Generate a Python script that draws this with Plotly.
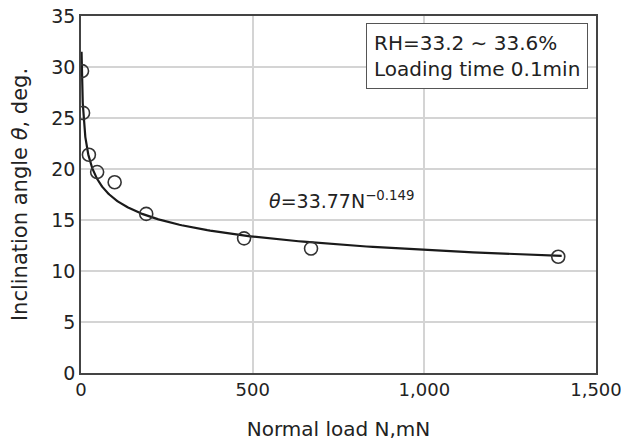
import numpy as np
import plotly.graph_objects as go

# Measured data
load_mN = [3, 6, 23, 47, 98, 190, 475, 670, 1390]
angle_deg = [29.6, 25.5, 21.4, 19.7, 18.7, 15.6, 13.2, 12.2, 11.4]

# Power-law fit theta = a * N^b (as stated on the chart)
fit_a = 33.77
fit_b = -0.149
fit_range = [1.6, 1400]

x_ticks = [0, 500, 1000, 1500]
x_tick_labels = ["0", "500", "1,000", "1,500"]
y_ticks = [0, 5, 10, 15, 20, 25, 30, 35]

xf = np.geomspace(fit_range[0], fit_range[1], 300)
yf = fit_a * xf ** fit_b

fig = go.Figure()
fig.add_trace(go.Scatter(x=xf, y=yf, mode="lines",
                         line=dict(color="#1a1a1a", width=2.2), showlegend=False))
fig.add_trace(go.Scatter(x=load_mN, y=angle_deg, mode="markers",
                         marker=dict(symbol="circle-open", size=13, color="#333333",
                                     line=dict(width=1.6)), showlegend=False))

font = "DejaVu Sans, Liberation Sans, sans-serif"
fig.update_layout(
    width=621, height=441,
    margin=dict(l=81, r=25, t=16, b=68),
    paper_bgcolor="white", plot_bgcolor="white",
    font=dict(family=font, color="#222222"),
    xaxis=dict(range=[0, 1500], tickvals=x_ticks, ticktext=x_tick_labels,
               showgrid=True, gridcolor="#d4d4d4", gridwidth=1.5,
               showline=True, linecolor="#444444", linewidth=1.5, mirror=True,
               zeroline=False, ticks="", tickfont=dict(size=18), automargin=False,
               ticklabeloverflow="allow",
               title=dict(text="Normal load N,mN", font=dict(size=20), standoff=24)),
    yaxis=dict(range=[0, 35], tickvals=y_ticks,
               showgrid=True, gridcolor="#d4d4d4", gridwidth=1.5,
               showline=True, linecolor="#444444", linewidth=1.5, mirror=True,
               zeroline=False, ticks="", tickfont=dict(size=19), automargin=False,
               ticklabeloverflow="allow",
               title=dict(text="Inclination angle <i>θ</i>, deg.", font=dict(size=21), standoff=18)),
    annotations=[
        dict(x=541, y=17.0, xref="x", yref="y", xanchor="left", yanchor="middle",
             text="<i>θ</i>=33.77N<sup>−0.149</sup>", showarrow=False,
             font=dict(size=19, family=font, color="#222222")),
        dict(x=0.984, y=0.98, xref="paper", yref="paper", xanchor="right", yanchor="top",
             text="RH=33.2 ∼ 33.6%<br>Loading time 0.1min", showarrow=False, align="left",
             bordercolor="#555555", borderwidth=1, borderpad=7, bgcolor="white",
             font=dict(size=20, family=font, color="#222222")),
    ],
)

fig.write_html("out.html", config={"displayModeBar": False},
               post_script="document.body.style.margin='0';")
